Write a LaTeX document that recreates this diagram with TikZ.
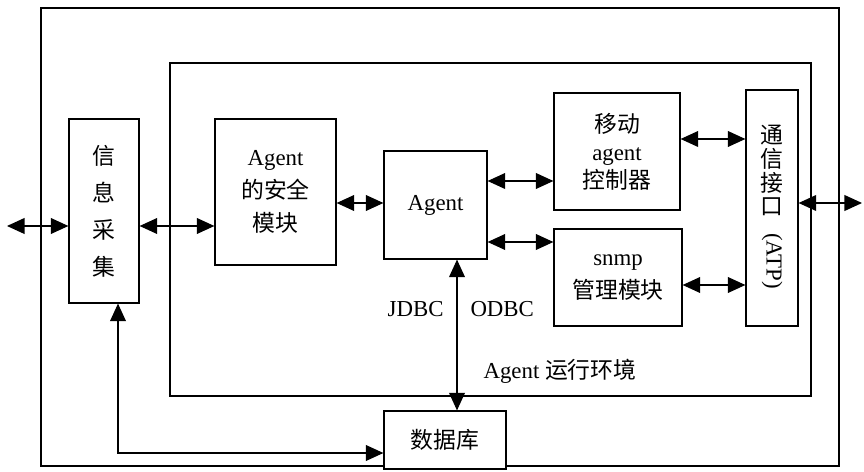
\documentclass[tikz,border=0pt]{standalone}
\usepackage{fontspec}
\setmainfont{Liberation Serif}
\newfontfamily\cjk{Noto Sans CJK SC}
\newcommand{\zh}[1]{{\cjk #1}}
\usetikzlibrary{arrows.meta}

\begin{document}
\begin{tikzpicture}[x=0.02cm, y=-0.02cm, line width=0.7pt,
        >={Triangle[length=10pt,width=9pt]},
        box/.style={draw, fill=white, inner sep=0pt, align=center,
                font=\fontsize{13}{19}\selectfont},
        lbl/.style={font=\fontsize{13}{15}\selectfont}]
        \useasboundingbox (0,0) rectangle (864,472);
        % frames
        \draw (41,8) rectangle (839,466);
        \draw (170,63) rectangle (811,396);
        % blocks
        \node[box, minimum width=1.40cm, minimum height=3.68cm] (xinxi) at (104,211)
                {\zh{信}\\[2pt]\zh{息}\\[2pt]\zh{采}\\[2pt]\zh{集}};
        \node[box, minimum width=2.42cm, minimum height=2.92cm] (anquan) at (275.5,192)
                {Agent\\\zh{的安全}\\\zh{模块}};
        \node[box, minimum width=2.06cm, minimum height=2.16cm] (agent) at (435.5,205) {Agent};
        \node[box, minimum width=2.52cm, minimum height=2.34cm,
                font=\fontsize{13}{16}\selectfont] (yidong) at (617,151.5)
                {\zh{移动}\\agent\\\zh{控制器}};
        \node[box, minimum width=2.56cm, minimum height=1.94cm] (snmp) at (618,277.5)
                {snmp\\\zh{管理模块}};
        \node[box, minimum width=1.04cm, minimum height=4.72cm,
                font=\fontsize{13}{13.5}\selectfont] (tongxin) at (772,208)
                {\\[-4pt]\zh{通}\\\zh{信}\\\zh{接}\\\zh{口}\\[-3pt]\rotatebox{-90}{(ATP)}};
        \node[box, minimum width=2.44cm, minimum height=1.16cm] (shuju) at (445,440) {\zh{数据库}};
        % free ends
        \coordinate (lext) at (7,226);
        \coordinate (rext) at (862,203);
        \coordinate (bend) at (118,453);
        % links
        \draw[<->] (lext) -- (xinxi.west |- lext);
        \draw[<->] (xinxi.east |- 0,226) -- (anquan.west |- 0,226);
        \draw[<->] (anquan.east |- 0,203) -- (agent.west |- 0,203);
        \draw[<->] (agent.east |- 0,181) -- (yidong.west |- 0,181);
        \draw[<->] (agent.east |- 0,242) -- (snmp.west |- 0,242);
        \draw[<->] (yidong.east |- 0,139) -- (tongxin.west |- 0,139);
        \draw[<->] (snmp.east |- 0,285) -- (tongxin.west |- 0,285);
        \draw[<->] (tongxin.east |- rext) -- (rext);
        \draw[<->] (agent.south -| 457,0) -- (shuju.north -| 457,0)
                node[lbl, pos=0.33, left=4pt] (jdbc) {JDBC}
                node[lbl, pos=0.33, right=4pt] (odbc) {ODBC};
        \draw[<->] (xinxi.south -| bend) -- (bend) -- (shuju.west |- bend);
        \node[lbl] (huanjing) at (560,371) {Agent \zh{运行环境}};
\end{tikzpicture}
\end{document}
